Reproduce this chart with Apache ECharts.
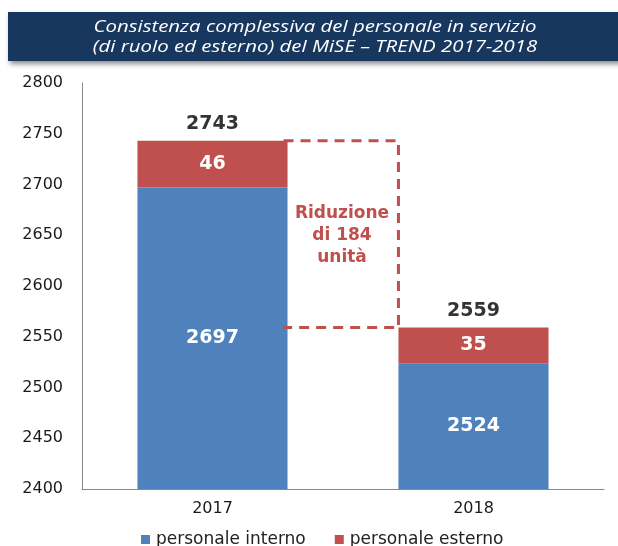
<!DOCTYPE html>
<html>
<head>
<meta charset="utf-8">
<script src="https://cdn.jsdelivr.net/npm/echarts@6/dist/echarts.min.js"></script>
<style>
  html, body { margin: 0; padding: 0; background: #fff; }
  #chart { width: 618px; height: 546px; }
</style>
</head>
<body>
<div id="chart"></div>
<script>
// dati
const anni = ['2017', '2018']
const interno = [2697, 2524]
const esterno = [46, 35]
const totali = [2743, 2559]
const riduzione = 184
const yTicks = { min: 2400, max: 2800, interval: 50 }

const blu = '#4F81BD'
const rosso = '#C0504D'
const font = '"DejaVu Sans", "Liberation Sans", Arial, sans-serif'

const myChart = echarts.init(document.getElementById('chart'))

// riquadro tratteggiato tra le due colonne
function renderRiduzione (params, api) {
  const top = api.coord([0, totali[0]])
  const bot = api.coord([1, totali[1]])
  const half = api.size([1, 0])[0] * 0.575 / 2
  const x1 = top[0] + half - 4
  const x2 = bot[0] - half
  return {
    type: 'group',
    children: [
      {
        type: 'polyline',
        shape: { points: [[x1, top[1]], [x2, top[1]], [x2, bot[1]], [x1, bot[1]]] },
        style: { stroke: rosso, lineWidth: 3, lineDash: [10, 7], fill: null }
      },
      {
        type: 'text',
        x: (x1 + x2) / 2 + 1,
        y: top[1] + 95,
        style: {
          text: 'Riduzione\ndi ' + riduzione + '\nunità',
          fill: rosso,
          font: 'bold 17px ' + font,
          align: 'center',
          verticalAlign: 'middle',
          lineHeight: 22
        }
      }
    ]
  }
}

myChart.setOption({
  animation: false,
  textStyle: { fontFamily: font },
  color: [blu, rosso],
  graphic: [
    {
      type: 'rect',
      left: 8,
      top: 12,
      shape: { width: 620, height: 49 },
      style: {
        fill: '#17375E',
        shadowBlur: 5,
        shadowOffsetX: 2,
        shadowOffsetY: 3,
        shadowColor: 'rgba(0,0,0,0.45)'
      }
    },
    {
      type: 'text',
      x: 315,
      y: 37,
      scaleX: 1.2,
      style: {
        text: 'Consistenza complessiva del personale in servizio\n(di ruolo ed esterno) del MiSE \u2013 TREND 2017-2018',
        fill: '#fff',
        font: 'italic 17px "Open Sans", sans-serif',
        align: 'center',
        verticalAlign: 'middle',
        lineHeight: 20
      }
    }
  ],
  legend: {
    top: 526,
    left: 136,
    selectedMode: false,
    icon: 'rect',
    itemWidth: 9,
    itemHeight: 9,
    itemGap: 29,
    data: ['personale interno', 'personale esterno'],
    textStyle: { color: '#222', fontSize: 17, padding: [0, 0, 0, 1] }
  },
  grid: {
    top: 83,
    left: 82,
    right: 14,
    bottom: 57
  },
  xAxis: {
    type: 'category',
    data: anni,
    axisLine: { lineStyle: { color: '#888', width: 1 } },
    axisTick: { show: false },
    axisLabel: { color: '#1a1a1a', fontSize: 16, margin: 12 }
  },
  yAxis: {
    type: 'value',
    min: yTicks.min,
    max: yTicks.max,
    interval: yTicks.interval,
    axisLine: { show: true, lineStyle: { color: '#888', width: 1 } },
    axisTick: { show: false },
    splitLine: { show: false },
    axisLabel: { color: '#1a1a1a', fontSize: 16, margin: 19, formatter: v => String(v) }
  },
  series: [
    {
      name: 'personale interno',
      type: 'bar',
      stack: 'tot',
      barWidth: '57.5%',
      data: interno,
      itemStyle: { color: blu },
      label: {
        show: true,
        position: 'inside',
        color: '#fff',
        fontSize: 19,
        fontWeight: 'bold'
      }
    },
    {
      name: 'personale esterno',
      type: 'bar',
      stack: 'tot',
      data: esterno,
      itemStyle: { color: rosso },
      label: {
        show: true,
        position: 'inside',
        color: '#fff',
        fontSize: 19,
        fontWeight: 'bold'
      }
    },
    {
      name: 'totale',
      type: 'scatter',
      data: totali,
      symbolSize: 2,
      itemStyle: { color: 'rgba(0,0,0,0)' },
      silent: true,
      labelLayout: { hideOverlap: false },
      label: {
        show: true,
        position: 'top',
        distance: 6,
        color: '#000',
        fontSize: 19,
        fontWeight: 'bold'
      },
      z: 5
    },
    {
      name: 'riduzione',
      type: 'custom',
      renderItem: renderRiduzione,
      data: [0],
      silent: true,
      z: 4
    }
  ]
})
</script>
</body>
</html>
